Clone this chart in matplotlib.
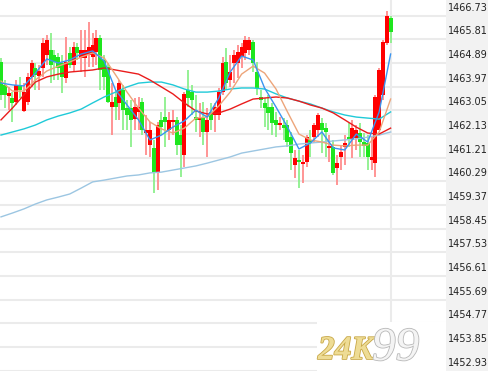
import numpy as np
import matplotlib
matplotlib.use("Agg")
import matplotlib.pyplot as plt
import matplotlib.transforms as mtransforms
import matplotlib.patheffects as pe
from matplotlib.patches import Rectangle

# K线数据 (开, 高, 低, 收)
opens = [1464.93, 1464.04, 1463.61, 1463.53, 1463.38, 1464.04, 1463.03, 1463.38, 1464.35, 1464.70,
         1464.39, 1464.70, 1465.20, 1465.40, 1465.20, 1465.12, 1464.89, 1464.31, 1465.28, 1464.81,
         1465.51, 1465.09, 1465.09, 1465.20, 1465.12, 1465.32, 1465.86, 1465.01, 1464.74, 1463.18,
         1463.57, 1463.34, 1463.84, 1463.14, 1463.14, 1462.71, 1462.99, 1463.38, 1462.17, 1461.70,
         1461.59, 1460.62, 1462.68, 1462.79, 1462.29, 1462.60, 1462.68, 1462.09, 1461.32, 1463.84,
         1463.76, 1462.79, 1462.68, 1462.79, 1462.21, 1462.99, 1462.87, 1462.87, 1463.76, 1464.93,
         1464.23, 1464.89, 1464.89, 1465.12, 1465.28, 1465.40, 1465.71, 1464.54, 1463.57, 1463.34,
         1463.18, 1463.18, 1462.68, 1462.48, 1462.48, 1462.48, 1462.01, 1460.93, 1461.12, 1460.97,
         1461.04, 1461.90, 1462.01, 1462.29, 1462.56, 1462.36, 1461.59, 1461.63, 1460.81, 1461.24,
         1461.63, 1462.01, 1461.90, 1461.98, 1462.17, 1461.82, 1461.78, 1461.12, 1461.00, 1462.29,
         1463.65, 1465.67, 1466.64]
highs = [1465.09, 1464.23, 1463.96, 1463.76, 1464.23, 1464.35, 1464.11, 1464.50, 1465.01, 1464.89,
         1464.81, 1465.86, 1465.98, 1466.06, 1465.40, 1465.28, 1465.20, 1465.90, 1465.51, 1465.71,
         1465.67, 1466.17, 1466.17, 1466.49, 1466.06, 1466.17, 1465.98, 1465.20, 1464.89, 1464.11,
         1463.84, 1464.23, 1464.04, 1463.45, 1463.45, 1463.53, 1463.57, 1463.53, 1462.87, 1462.60,
         1461.90, 1462.60, 1462.99, 1463.57, 1462.99, 1463.06, 1462.79, 1462.48, 1463.76, 1464.62,
         1464.04, 1463.65, 1463.34, 1463.38, 1463.14, 1463.34, 1463.34, 1463.92, 1465.12, 1465.47,
         1465.20, 1465.40, 1465.59, 1465.67, 1465.94, 1465.90, 1465.79, 1464.93, 1463.84, 1463.53,
         1463.65, 1463.34, 1462.99, 1462.79, 1462.75, 1462.68, 1462.21, 1461.51, 1461.51, 1461.32,
         1462.09, 1462.29, 1462.56, 1462.95, 1462.75, 1462.56, 1462.09, 1461.90, 1461.32, 1461.70,
         1462.09, 1462.56, 1462.68, 1462.48, 1462.56, 1462.17, 1462.09, 1462.01, 1463.65, 1464.70,
         1465.79, 1466.91, 1466.72]
lows = [1463.45, 1463.14, 1463.06, 1462.60, 1463.26, 1463.53, 1462.99, 1463.26, 1463.96, 1463.84,
        1463.84, 1464.35, 1464.81, 1464.11, 1464.23, 1464.23, 1463.73, 1464.11, 1464.70, 1464.54,
        1465.01, 1464.54, 1464.35, 1464.74, 1464.74, 1464.81, 1463.84, 1463.84, 1463.34, 1462.09,
        1462.68, 1462.68, 1462.29, 1462.29, 1461.63, 1462.29, 1462.29, 1462.09, 1461.32, 1461.24,
        1459.84, 1459.96, 1462.09, 1461.63, 1461.90, 1462.09, 1461.32, 1460.46, 1460.85, 1463.18,
        1462.87, 1462.21, 1462.01, 1461.70, 1461.24, 1462.29, 1462.21, 1462.68, 1463.65, 1463.84,
        1463.96, 1464.11, 1464.31, 1464.70, 1465.01, 1465.20, 1464.54, 1463.65, 1463.14, 1462.40,
        1462.29, 1462.09, 1462.01, 1462.29, 1461.90, 1461.63, 1460.73, 1460.42, 1460.03, 1460.23,
        1460.85, 1461.24, 1461.78, 1462.01, 1461.39, 1461.24, 1461.04, 1460.54, 1460.15, 1460.73,
        1460.93, 1461.63, 1461.20, 1461.51, 1461.24, 1461.24, 1460.73, 1460.73, 1460.46, 1462.87,
        1463.45, 1465.59, 1465.67]
closes = [1463.65, 1463.65, 1463.73, 1463.34, 1464.04, 1463.84, 1463.76, 1464.35, 1464.89, 1464.43,
          1464.58, 1465.67, 1465.79, 1464.81, 1464.93, 1464.70, 1464.35, 1464.93, 1464.81, 1465.51,
          1465.28, 1465.40, 1465.40, 1465.51, 1465.59, 1465.86, 1464.62, 1464.35, 1463.38, 1463.38,
          1463.18, 1464.11, 1463.06, 1462.87, 1462.68, 1463.18, 1463.18, 1462.29, 1462.29, 1462.29,
          1460.62, 1462.48, 1462.40, 1462.60, 1462.68, 1462.68, 1461.70, 1461.70, 1463.69, 1463.53,
          1463.45, 1462.68, 1462.75, 1462.21, 1462.68, 1462.68, 1463.18, 1463.76, 1464.89, 1464.11,
          1464.54, 1465.20, 1465.32, 1465.51, 1465.79, 1465.79, 1464.89, 1463.92, 1463.45, 1463.14,
          1462.95, 1462.56, 1462.48, 1462.56, 1462.36, 1461.82, 1461.39, 1461.20, 1461.04, 1461.04,
          1462.01, 1461.78, 1462.48, 1462.87, 1462.29, 1462.21, 1461.67, 1460.62, 1461.00, 1461.43,
          1461.78, 1461.90, 1462.36, 1462.29, 1461.82, 1461.67, 1461.24, 1461.24, 1463.57, 1464.62,
          1465.71, 1466.72, 1466.10]

# 均线 (每3根K线取一个点)
ma_idx = list(range(0, 103, 3))
ma5 = [1464.11, 1464.04, 1464.00, 1464.50, 1465.05, 1464.89, 1465.01, 1465.24, 1465.36, 1464.97,
       1463.84, 1463.26, 1462.68, 1461.90, 1462.09, 1462.40, 1462.64, 1463.06, 1462.79, 1463.53,
       1464.54, 1465.16, 1465.01, 1463.92, 1463.18, 1462.40, 1461.55, 1461.78, 1462.21, 1461.59,
       1461.51, 1462.13, 1461.82, 1462.99, 1465.24]
ma10 = [1464.19, 1463.80, 1463.80, 1464.23, 1464.58, 1464.77, 1464.93, 1465.12, 1465.28, 1465.09,
        1464.43, 1463.76, 1463.14, 1462.60, 1462.33, 1462.17, 1462.36, 1462.75, 1462.79, 1463.22,
        1463.76, 1464.46, 1464.77, 1464.50, 1463.88, 1462.99, 1462.13, 1461.90, 1461.82, 1461.70,
        1461.67, 1461.70, 1461.70, 1462.21, 1463.49]
ma20 = [1462.68, 1463.14, 1463.65, 1464.15, 1464.35, 1464.46, 1464.54, 1464.58, 1464.62, 1464.70,
        1464.62, 1464.54, 1464.46, 1464.23, 1463.96, 1463.69, 1463.34, 1463.03, 1462.91, 1462.95,
        1463.10, 1463.30, 1463.49, 1463.53, 1463.57, 1463.53, 1463.41, 1463.26, 1463.14, 1462.95,
        1462.68, 1462.40, 1462.17, 1462.13, 1462.36]
ma60 = [1462.09, 1462.21, 1462.33, 1462.48, 1462.68, 1462.83, 1462.95, 1463.10, 1463.34, 1463.57,
        1463.76, 1463.96, 1464.11, 1464.15, 1464.15, 1464.04, 1463.88, 1463.76, 1463.76, 1463.80,
        1463.88, 1463.92, 1463.92, 1463.88, 1463.69, 1463.53, 1463.41, 1463.30, 1463.14, 1462.99,
        1462.87, 1462.79, 1462.75, 1462.71, 1462.99]
ma120 = [1458.91, 1459.06, 1459.22, 1459.41, 1459.57, 1459.68, 1459.80, 1460.03, 1460.27, 1460.34,
         1460.42, 1460.50, 1460.54, 1460.62, 1460.65, 1460.73, 1460.81, 1460.89, 1461.00, 1461.12,
         1461.24, 1461.39, 1461.47, 1461.55, 1461.63, 1461.67, 1461.74, 1461.78, 1461.82, 1461.86,
         1461.90, 1461.94, 1462.01, 1462.09, 1462.21]

ytick_vals = [1452.93, 1453.85, 1454.77, 1455.69, 1456.61, 1457.53, 1458.45, 1459.37,
              1460.29, 1461.21, 1462.13, 1463.05, 1463.97, 1464.89, 1465.81, 1466.73]
ytick_labels = ["%.2f" % v for v in ytick_vals]

UP_BODY, UP_WICK = "#ff0000", "#ff8c8c"
DN_BODY, DN_WICK = "#1ee61e", "#8cf08c"

fig = plt.figure(figsize=(4.89, 3.71), dpi=100)
fig.patch.set_facecolor("white")
# 右侧价格栏
fig.patches.append(Rectangle((446 / 489, 0), 1 - 446 / 489, 1, transform=fig.transFigure,
                             facecolor="#f2f2f2", edgecolor="none", zorder=-1))

ax = fig.add_axes([0, 0, 446 / 489, 1])
ax.set_facecolor("none")
for s in ax.spines.values():
    s.set_visible(False)
ax.set_xticks([])
ax.set_yticks([])

n = len(closes)
x = np.arange(n)
ax.set_xlim(-0.26, 116.5)
ax.set_ylim(1452.92, 1467.34)

for v in ytick_vals:
    ax.axhline(v, color="#ebebeb", lw=1.5, zorder=0)
ax.axvline(n - 1, color="#ebebeb", lw=1.5, zorder=0)

o = np.array(opens); h = np.array(highs); l = np.array(lows); c = np.array(closes)
up = c >= o
wick_cols = [UP_WICK if u else DN_WICK for u in up]
body_cols = [UP_BODY if u else DN_BODY for u in up]
ax.vlines(x, l, h, colors=wick_cols, lw=1.3, zorder=2)
bottom = np.minimum(o, c)
height = np.maximum(np.abs(c - o), 0.05)
ax.bar(x, height, bottom=bottom, width=1.05, color=body_cols, linewidth=0, zorder=3)

ax.plot(ma_idx, ma120, color="#9cc6e2", lw=1.0, zorder=4)
ax.plot(ma_idx, ma60, color="#1fcad8", lw=1.0, zorder=4)
ax.plot(ma_idx, ma20, color="#ea1c1c", lw=1.0, zorder=4)
ax.plot(ma_idx, ma10, color="#eda57a", lw=1.0, zorder=5)
ax.plot(ma_idx, ma5, color="#3a94f0", lw=1.0, zorder=6)

# 价格标签
trans = mtransforms.blended_transform_factory(ax.transAxes, ax.transData)
trans = mtransforms.offset_copy(trans, fig=fig, x=2, y=3, units="dots")
for v, lab in zip(ytick_vals, ytick_labels):
    ax.text(1.0, v, lab, transform=trans, ha="left", va="bottom", fontsize=7,
            color="#222222", family="DejaVu Sans", clip_on=False, zorder=10)

# 水印
fig.patches.append(Rectangle((317 / 489, 0), (446 - 317) / 489, 49 / 371,
                             transform=fig.transFigure, facecolor="white",
                             edgecolor="none", zorder=1))
fig.text(318 / 489, 12 / 371, "24K", fontsize=24, fontstyle="italic", fontweight="bold",
         family="Liberation Serif", color="#eedc95", zorder=5,
         path_effects=[pe.withStroke(linewidth=1.2, foreground="#c8a848")])
fig.text(372 / 489, 11 / 371, "99", fontsize=34, fontstyle="italic",
         family="Liberation Serif", color="#f4f4f4", zorder=5,
         path_effects=[pe.withStroke(linewidth=1.2, foreground="#b8b8b8")])

fig.savefig("out.png", dpi=100)
